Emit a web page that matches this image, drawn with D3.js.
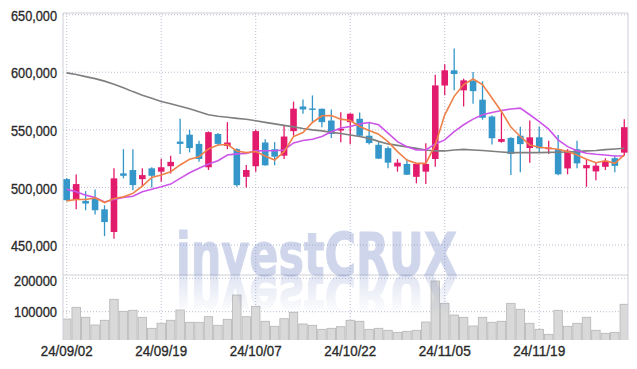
<!DOCTYPE html>
<html><head><meta charset="utf-8">
<script src="https://cdn.jsdelivr.net/npm/d3@7"></script>
<style>body{margin:0;background:#fff}svg{display:block}</style>
</head><body><svg id="c" width="637" height="369"></svg>
<script>
const dates = ["24/09/02","24/09/03","24/09/04","24/09/05","24/09/06","24/09/09","24/09/10","24/09/11","24/09/12","24/09/13","24/09/19","24/09/20","24/09/23","24/09/24","24/09/25","24/09/26","24/09/27","24/09/30",
"24/10/02","24/10/04","24/10/07","24/10/08","24/10/10","24/10/11","24/10/14","24/10/15","24/10/16","24/10/17","24/10/18","24/10/21","24/10/22","24/10/23","24/10/24","24/10/25","24/10/28","24/10/29","24/10/30","24/10/31",
"24/11/01","24/11/04","24/11/05","24/11/06","24/11/07","24/11/08","24/11/11","24/11/12","24/11/13","24/11/14","24/11/15","24/11/18","24/11/19","24/11/20","24/11/21","24/11/22","24/11/25","24/11/26","24/11/27","24/11/28","24/11/29","24/12/02"];
const open = [507200,489500,488300,490700,481000,461300,512200,515100,507200,516600,513700,518400,539800,545800,537800,517500,546400,536000,533200,509200,518400,539000,533200,527600,548900,570300,568600,568300,558100,549400,556700,559600,544900,537000,534100,518200,520400,509200,513700,524700,588500,601700,584300,592400,576200,561600,539600,543000,544900,534200,543500,533200,533200,516500,533200,516600,513900,517900,525400,530200];
const high = [508100,511300,496800,498300,484500,516600,533200,533200,516600,517500,524800,527600,559600,550200,540600,548600,547300,556700,534100,519400,550300,541900,539300,553800,574500,576400,579900,568600,567700,565300,564500,565000,556400,539300,535500,524500,524000,521000,538400,597900,607000,620700,594500,600300,592100,562500,565300,543500,552600,558100,553000,540600,545600,533200,540600,524000,521800,525400,527500,559300];
const low = [488000,481000,480200,476400,457700,455500,507900,497600,500500,500000,504900,512200,529100,530400,522300,515100,536300,533200,500500,500000,513700,518800,519200,524700,544900,563900,556700,552300,543000,539200,537600,544300,537300,524700,516600,513700,510800,503500,502900,517900,580000,584300,570300,572700,558800,537300,538800,510800,513100,521500,530400,529100,510500,511400,516600,500500,506300,515100,513100,527500];
const close = [488900,502900,486000,480200,469900,507900,510100,502000,510700,510100,517500,522200,537800,534200,524700,548000,537800,539000,502000,515100,548900,519200,526700,544200,568400,567700,567700,556700,546400,550800,564000,544900,538500,525000,521500,521500,511000,520400,520400,588600,601700,598500,593000,583600,560500,542700,542000,529100,537600,543500,533900,534600,511400,531900,520900,519400,518900,523100,518700,552300];
const volume = [78100,113200,83200,60200,74300,137100,101200,104200,83200,50300,65300,74300,105100,68300,68300,85000,59300,77200,150000,85000,116200,71300,56300,79000,98200,63200,59300,47300,50300,55100,74300,71300,47300,50300,44300,38300,41300,44300,69200,191900,125100,90100,83200,57200,83200,68300,71300,125100,107200,65300,47300,32300,104200,56300,65300,83200,44300,35300,38300,122200];
const ma5 = [488300,489500,489500,490900,486900,490400,491800,494800,501100,508700,510700,513600,519500,524400,526700,533400,536900,537300,531700,530200,531200,527300,523800,531100,544200,547600,556400,562200,562500,559300,558100,552900,549400,546200,539800,531100,523800,520900,520900,536900,563100,579100,589300,594200,589300,577700,566000,552400,544200,536900,534900,534000,533200,531100,528200,524400,521500,523200,520900,528200];
const ma20 = [498300,496200,493300,491300,487400,489500,491300,492400,496200,498500,500500,502900,507900,512700,516600,520300,523200,528200,529100,529500,531700,531900,531900,532500,538700,540800,541900,544200,548300,551500,552900,555200,556400,554400,547100,539800,535400,532500,532500,537800,541300,548500,554400,559300,563100,565100,566800,568100,568900,563100,557200,550600,541300,535400,531900,529700,528800,528200,527300,527300];
const ma120 = [599500,598000,596200,594500,592300,589700,586600,583200,580100,577500,574700,572700,570500,568300,565700,563100,561800,560900,560000,559200,557900,556500,555200,553900,552600,551100,550000,549100,547800,546900,545600,544300,542600,540000,537800,536500,535200,533900,532500,531700,531700,532500,533000,532500,532100,531400,530800,530200,530200,530200,530200,530400,530500,530800,531100,531700,532100,532800,533400,534000];
const priceTicks = [450000,500000,550000,600000,650000];
const volumeTicks = [100000,200000];
const dateTicks = ["24/09/02","24/09/19","24/10/07","24/10/22","24/11/05","24/11/19"];

const svg = d3.select("#c");
const L = 63, R = 628, PT = 13, PB = 275, VB = 340;
const font = "'Liberation Sans',Arial,sans-serif";
const idx = d3.range(dates.length);
const x = d3.scaleBand().domain(idx).range([62, 629]).padding(0);
const cx = i => x(i) + x.bandwidth() / 2;
const y = d3.scaleLinear().domain([450000, 650000]).range([245, 14.7]);
const yv = d3.scaleLinear().domain([100000, 200000]).range([311.7, 278.3]);

const defs = svg.append("defs");
defs.append("clipPath").attr("id", "cp").append("rect").attr("x", L).attr("y", PT).attr("width", R - L).attr("height", PB - PT);
defs.append("clipPath").attr("id", "cv").append("rect").attr("x", L).attr("y", PB).attr("width", R - L).attr("height", VB - PB);
const lg = defs.append("linearGradient").attr("id", "fade").attr("gradientUnits", "userSpaceOnUse")
  .attr("x1", 0).attr("y1", 276).attr("x2", 0).attr("y2", 316);
lg.append("stop").attr("offset", 0).attr("stop-color", "#fff").attr("stop-opacity", 1);
lg.append("stop").attr("offset", 1).attr("stop-color", "#fff").attr("stop-opacity", 0);
defs.append("mask").attr("id", "mk").attr("maskUnits", "userSpaceOnUse")
  .attr("x", 0).attr("y", 0).attr("width", 637).attr("height", 369)
  .append("rect").attr("x", 0).attr("y", 275).attr("width", 637).attr("height", 60).attr("fill", "url(#fade)");

const gridC = "#b9bdd0";
svg.append("g").selectAll("line").data(priceTicks).join("line")
  .attr("x1", L).attr("x2", R).attr("y1", d => y(d)).attr("y2", d => y(d))
  .attr("stroke", gridC).attr("stroke-dasharray", "1,2");
svg.append("g").selectAll("line").data(volumeTicks).join("line")
  .attr("x1", L).attr("x2", R).attr("y1", d => yv(d)).attr("y2", d => yv(d))
  .attr("stroke", gridC).attr("stroke-dasharray", "1,2");
svg.append("g").selectAll("line").data(dateTicks).join("line")
  .attr("x1", d => cx(dates.indexOf(d))).attr("x2", d => cx(dates.indexOf(d)))
  .attr("y1", PT).attr("y2", VB)
  .attr("stroke", gridC).attr("stroke-dasharray", "1,2");

// volume bars
svg.append("g").attr("clip-path", "url(#cv)").selectAll("rect").data(idx).join("rect")
  .attr("x", i => x(i) + 0.5).attr("width", x.bandwidth() - 1)
  .attr("y", i => yv(volume[i])).attr("height", i => VB + 5 - yv(volume[i]))
  .attr("fill", "#d9d9d9").attr("stroke", "#b5b5b5").attr("stroke-width", 0.8);

// frame
const fc = "#cfd0d8";
svg.append("line").attr("x1", L).attr("x2", R).attr("y1", PT).attr("y2", PT).attr("stroke", fc);
svg.append("line").attr("x1", L).attr("x2", R).attr("y1", PB).attr("y2", PB).attr("stroke", fc);
svg.append("line").attr("x1", L).attr("x2", L).attr("y1", PT).attr("y2", VB).attr("stroke", fc);
svg.append("line").attr("x1", R).attr("x2", R).attr("y1", PT).attr("y2", VB).attr("stroke", fc);

// watermark (with mirrored reflection)
const wmText = g => g.append("text").attr("x", 176).attr("y", 275).text("investCRUX")
  .attr("font-family", "'DejaVu Sans',sans-serif").attr("font-weight", "bold")
  .attr("font-size", 59).attr("textLength", 281).attr("lengthAdjust", "spacingAndGlyphs")
  .attr("fill", "rgb(110,130,195)").attr("stroke", "rgb(110,130,195)").attr("stroke-width", 1.2);
svg.append("g").attr("opacity", 0.32).call(wmText);
svg.append("g").attr("mask", "url(#mk)").append("g").attr("opacity", 0.2)
  .attr("transform", "translate(0,551) scale(1,-1)").call(wmText);

// candles
const up = "#e31b6d", down = "#3597c9";
const cg = svg.append("g").attr("clip-path", "url(#cp)");
const col = i => close[i] >= open[i] ? up : down;
cg.selectAll("line").data(idx).join("line")
  .attr("x1", cx).attr("x2", cx).attr("y1", i => y(high[i])).attr("y2", i => y(low[i]))
  .attr("stroke", col).attr("stroke-width", 1.3);
const bw = 6.6;
cg.selectAll("rect").data(idx).join("rect")
  .attr("x", i => cx(i) - bw / 2).attr("width", bw)
  .attr("y", i => y(Math.max(open[i], close[i])))
  .attr("height", i => Math.max(1.5, Math.abs(y(open[i]) - y(close[i]))))
  .attr("fill", col);

// moving averages
const line = arr => d3.line().x((d, i) => cx(i)).y(d => y(d))(arr);
const lg2 = svg.append("g").attr("clip-path", "url(#cp)").attr("fill", "none").attr("stroke-width", 1.6);
lg2.append("path").attr("d", line(ma120)).attr("stroke", "#7f7f7f");
lg2.append("path").attr("d", line(ma20)).attr("stroke", "#cc55e8");
lg2.append("path").attr("d", line(ma5)).attr("stroke", "#ef8148");

// axes
const styleAxis = (g, w) => {
  g.select(".domain").remove();
  g.selectAll("text").attr("font-family", font).attr("font-size", 15).attr("fill", "#2a2a2a")
    .attr("stroke", "#2a2a2a").attr("stroke-width", 0.35)
    .attr("textLength", w).attr("lengthAdjust", "spacingAndGlyphs");
};
svg.append("g").attr("transform", `translate(${L},0)`)
  .call(d3.axisLeft(y).tickValues(priceTicks).tickFormat(d3.format(",")).tickSize(0).tickPadding(6))
  .call(styleAxis, 46).selectAll("text").attr("dy", "0.38em");
const va = svg.append("g").attr("transform", `translate(${L},0)`)
  .call(d3.axisLeft(yv).tickValues(volumeTicks).tickFormat(d3.format("d")).tickSize(0).tickPadding(6))
  .call(styleAxis, 43);
va.selectAll("text").attr("dy", d => d === 200000 ? "0.5em" : "0.35em");
svg.append("g").attr("transform", `translate(0,${VB})`)
  .call(d3.axisBottom(x).tickValues(dateTicks.map(d => dates.indexOf(d))).tickFormat(i => dates[i]).tickSize(0).tickPadding(5))
  .call(styleAxis, 52);
</script></body></html>
